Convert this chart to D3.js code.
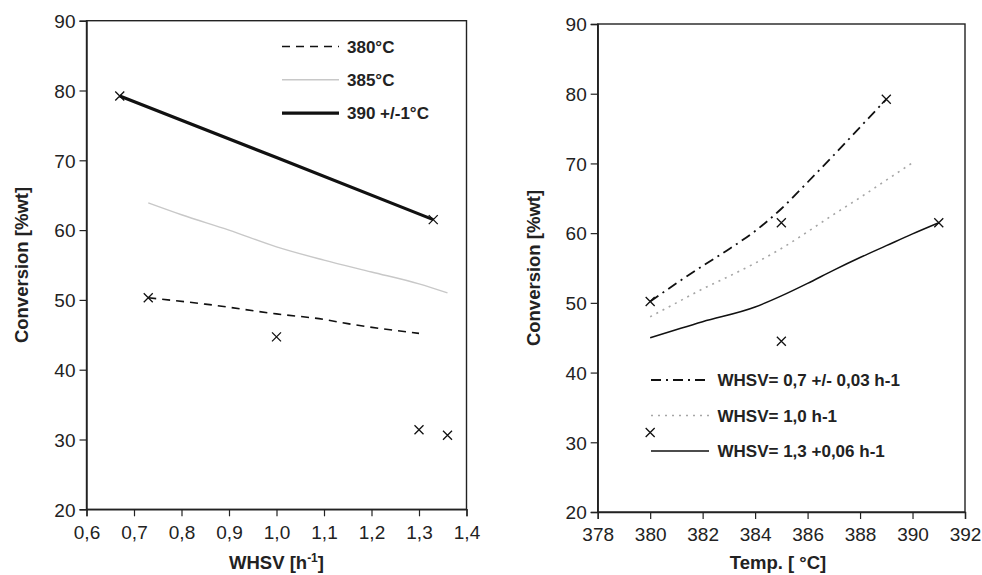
<!DOCTYPE html>
<html>
<head>
<meta charset="utf-8">
<script src="https://cdn.jsdelivr.net/npm/d3@7"></script>
<style>
  html, body { margin: 0; padding: 0; background: #fff; }
  svg { display: block; font-family: "Liberation Sans", Arial, Helvetica, sans-serif; }
</style>
</head>
<body>
<svg id="chart" width="982" height="575"></svg>
<script>
// ---------- DATA ----------
// Left panel: Conversion vs WHSV
const leftXTicks = [0.6, 0.7, 0.8, 0.9, 1.0, 1.1, 1.2, 1.3, 1.4];
const yTicks = [20, 30, 40, 50, 60, 70, 80, 90];

const t380X = [0.73, 0.85, 1.0, 1.1, 1.15, 1.3];
const t380Y = [50.3, 49.4, 48.0, 47.2, 46.6, 45.2];

const t385X = [0.73, 0.8, 0.9, 1.0, 1.1, 1.2, 1.3, 1.36];
const t385Y = [63.9, 62.2, 60.0, 57.6, 55.7, 54.0, 52.3, 51.0];

const t390X = [0.67, 1.0, 1.33];
const t390Y = [79.2, 70.4, 61.5];

const leftPtsX = [0.67, 0.73, 1.0, 1.3, 1.36, 1.33];
const leftPtsY = [79.2, 50.3, 44.7, 31.4, 30.6, 61.5];

const leftLegend = ["380\u00B0C", "385\u00B0C", "390 +/-1\u00B0C"];

// Right panel: Conversion vs Temperature
const rightXTicks = [378, 380, 382, 384, 386, 388, 390, 392];

const w07X = [380, 381, 382, 383, 384, 385, 386, 387, 388, 389];
const w07Y = [50.2, 52.8, 55.3, 57.7, 60.3, 63.5, 67.3, 71.2, 75.2, 79.2];

const w10X = [380, 381, 382, 383, 384, 385, 386, 387, 388, 389, 390];
const w10Y = [48.0, 50.0, 52.0, 53.8, 55.7, 57.8, 60.2, 62.7, 65.1, 67.6, 70.1];

const w13X = [380, 382, 384, 385, 386, 387, 388, 389, 390, 391];
const w13Y = [45.0, 47.3, 49.4, 51.0, 52.8, 54.7, 56.5, 58.2, 59.9, 61.5];

const rightPtsX = [380, 385, 389, 391, 385, 380];
const rightPtsY = [50.2, 61.5, 79.2, 61.5, 44.5, 31.4];

const rightLegend = ["WHSV= 0,7 +/- 0,03 h-1", "WHSV= 1,0 h-1", "WHSV= 1,3 +0,06 h-1"];

// ---------- DRAW ----------
const svg = d3.select("#chart");
const zip = (xs, ys) => xs.map((x, i) => [x, ys[i]]);

function panel(cfg) {
  const g = svg.append("g");
  const x = d3.scaleLinear().domain(cfg.xDomain).range([cfg.left, cfg.right]);
  const y = d3.scaleLinear().domain([20, 90]).range([cfg.bottom, cfg.top]);

  // frame
  g.append("rect")
    .attr("x", cfg.left).attr("y", cfg.top)
    .attr("width", cfg.right - cfg.left).attr("height", cfg.bottom - cfg.top)
    .attr("fill", "none").attr("stroke", "#222").attr("stroke-width", 1.4);

  // axes
  const xa = g.append("g").attr("transform", `translate(0,${cfg.bottom})`)
    .call(d3.axisBottom(x).tickValues(cfg.xTicks).tickSize(7).tickPadding(9)
      .tickFormat(cfg.xFmt));
  const ya = g.append("g").attr("transform", `translate(${cfg.left},0)`)
    .call(d3.axisLeft(y).tickValues(yTicks).tickSize(7).tickPadding(4)
      .tickFormat(d3.format("d")));
  [xa, ya].forEach(a => {
    a.select(".domain").attr("stroke", "#222").attr("stroke-width", 1.4);
    a.selectAll(".tick line").attr("stroke", "#222").attr("stroke-width", 1.2);
    a.selectAll(".tick text").attr("fill", "#222")
      .style("font-size", "19px").style("font-family", "'Liberation Sans', Arial, sans-serif");
  });
  ya.selectAll(".tick text").attr("dy", "0.36em");

  // y label
  g.append("text")
    .attr("transform", `translate(${cfg.yLabelX},${(cfg.top + cfg.bottom) / 2}) rotate(-90)`)
    .attr("text-anchor", "middle").attr("dy", "0.35em")
    .style("font-size", "18.5px").style("font-weight", "bold").attr("fill", "#222")
    .text("Conversion [%wt]");

  const line = d3.line().x(d => x(d[0])).y(d => y(d[1])).curve(d3.curveMonotoneX);
  cfg.series.forEach(s => {
    g.append("path").datum(zip(s.xs, s.ys))
      .attr("d", line).attr("fill", "none")
      .attr("stroke", s.color).attr("stroke-width", s.width)
      .attr("stroke-dasharray", s.dash || null);
  });

  // X markers
  const m = 4.5;
  g.selectAll("path.mk").data(zip(cfg.ptsX, cfg.ptsY)).enter().append("path")
    .attr("class", "mk")
    .attr("d", d => {
      const cx = x(d[0]), cy = y(d[1]);
      return `M${cx - m},${cy - m}L${cx + m},${cy + m}M${cx - m},${cy + m}L${cx + m},${cy - m}`;
    })
    .attr("stroke", "#111").attr("stroke-width", 1.3).attr("fill", "none");

  // legend
  cfg.series.forEach((s, i) => {
    const ly = cfg.legY + i * cfg.legStep;
    g.append("line")
      .attr("x1", cfg.legX1).attr("x2", cfg.legX2).attr("y1", ly).attr("y2", ly)
      .attr("stroke", s.color).attr("stroke-width", s.width)
      .attr("stroke-dasharray", s.dash || null);
    g.append("text").attr("x", cfg.legTextX).attr("y", ly).attr("dy", "0.36em")
      .style("font-size", "17px").style("font-weight", "bold").attr("fill", "#222")
      .text(cfg.legend[i]);
  });
  return { g, x, y };
}

const L = panel({
  left: 86.5, right: 466.5, top: 20.7, bottom: 509.3,
  xDomain: [0.6, 1.4], xTicks: leftXTicks,
  xFmt: d => d3.format(".1f")(d).replace(".", ","),
  yLabelX: 22,
  series: [
    { xs: t380X, ys: t380Y, color: "#111", width: 1.6, dash: "8,6" },
    { xs: t385X, ys: t385Y, color: "#c8c8c8", width: 1.4 },
    { xs: t390X, ys: t390Y, color: "#111", width: 3.2 }
  ],
  ptsX: leftPtsX, ptsY: leftPtsY,
  legend: leftLegend, legX1: 282, legX2: 339, legTextX: 347, legY: 46.5, legStep: 33.3,
});

const R = panel({
  left: 597.7, right: 965, top: 24, bottom: 512,
  xDomain: [378, 392], xTicks: rightXTicks,
  xFmt: d3.format("d"),
  yLabelX: 534,
  series: [
    { xs: w07X, ys: w07Y, color: "#111", width: 1.8, dash: "10,5,2,5" },
    { xs: w10X, ys: w10Y, color: "#a6a6a6", width: 1.6, dash: "2,5" },
    { xs: w13X, ys: w13Y, color: "#111", width: 1.5 }
  ],
  ptsX: rightPtsX, ptsY: rightPtsY,
  legend: rightLegend, legX1: 651, legX2: 709, legTextX: 717.5, legY: 380, legStep: 35.5,
});

// x-axis titles
const lt = svg.append("text").attr("x", (86.5 + 466.5) / 2).attr("y", 569)
  .attr("text-anchor", "middle").style("font-size", "18.5px").style("font-weight", "bold")
  .attr("fill", "#222");
lt.append("tspan").text("WHSV [h");
lt.append("tspan").text("-1").style("font-size", "12px").attr("dy", -7);
lt.append("tspan").text("]").attr("dy", 7);

svg.append("text").attr("x", 778).attr("y", 569)
  .attr("text-anchor", "middle").style("font-size", "18.5px").style("font-weight", "bold")
  .attr("fill", "#222")
  .text("Temp. [ \u00B0C]");
</script>
</body>
</html>
